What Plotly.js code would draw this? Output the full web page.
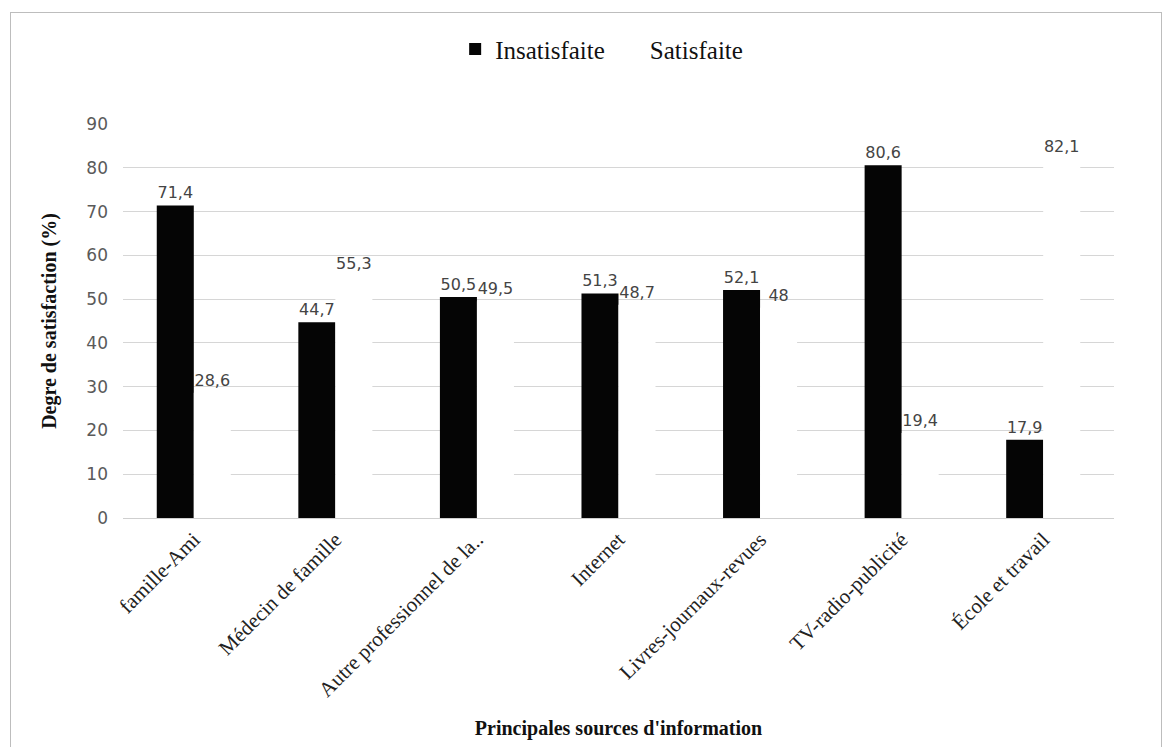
<!DOCTYPE html>
<html>
<head>
<meta charset="utf-8">
<script src="https://cdn.plot.ly/plotly-3.0.1.min.js"></script>
<style>
  html, body { margin: 0; padding: 0; background: #fff; }
  #wrap { position: relative; width: 1173px; height: 747px; overflow: hidden; }
  #chart { position: absolute; left: 0; top: 0; width: 1173px; height: 747px; }
  #frame { position: absolute; left: 10px; top: 12px; width: 1150px; height: 745px; border: 1px solid #bdbdbd; pointer-events: none; }
</style>
</head>
<body>
<div id="wrap">
  <div id="chart"></div>
  <div id="frame"></div>
</div>
<script>
const categories = ["famille-Ami", "Médecin de famille", "Autre professionnel de la..", "Internet", "Livres-journaux-revues", "TV-radio-publicité", "École et travail"];
const insatisfaite = [71.4, 44.7, 50.5, 51.3, 52.1, 80.6, 17.9];
const satisfaite = [28.6, 55.3, 49.5, 48.7, 48, 19.4, 82.1];
const yTicks = [0, 10, 20, 30, 40, 50, 60, 70, 80, 90];

const fmt = v => String(v).replace('.', ',');
const labelFont = { family: "DejaVu Sans, Verdana, sans-serif", size: 16, color: "#444" };
const serif = "Liberation Serif, Times New Roman, serif";

const traces = [
  {
    type: "bar", name: "Insatisfaite", x: categories, y: insatisfaite,
    marker: { color: "#050505" },
    text: insatisfaite.map(fmt), textposition: "outside", textfont: labelFont,
    cliponaxis: false, hoverinfo: "x+y"
  },
  {
    type: "bar", name: "Satisfaite", x: categories, y: satisfaite,
    marker: { color: "#ffffff" },
    text: satisfaite.map(fmt), textposition: "outside", textfont: labelFont,
    cliponaxis: false, hoverinfo: "x+y"
  }
];

const layout = {
  width: 1173, height: 747,
  paper_bgcolor: "rgba(0,0,0,0)", plot_bgcolor: "rgba(0,0,0,0)",
  margin: { l: 123, r: 59, t: 124, b: 229 },
  barmode: "group", bargap: 0.477, bargroupgap: 0,
  showlegend: true,
  legend: {
    orientation: "h", x: 0.483, xanchor: "center", y: 1.19, yanchor: "middle",
    font: { family: serif, size: 25, color: "#111" },
    itemwidth: 30, traceorder: "normal"
  },
  xaxis: {
    type: "category", tickangle: -45, automargin: false,
    tickfont: { family: serif, size: 21, color: "#222" },
    showgrid: false, showline: true, linecolor: "#cfcfcf", linewidth: 1,
    ticks: "", ticklen: 0,
    title: { text: "<b>Principales sources d'information</b>", font: { family: serif, size: 20, color: "#111" }, standoff: 20 }
  },
  yaxis: {
    range: [0, 90], tickvals: yTicks, automargin: false,
    tickfont: { family: "DejaVu Sans, Verdana, sans-serif", size: 17, color: "#5a5a5a" },
    showgrid: true, gridcolor: "#d6d6d6", gridwidth: 1,
    zeroline: false, showline: false, ticks: "", ticklabelstandoff: 14,
    title: { text: "<b>Degre de satisfaction (%)</b>", font: { family: serif, size: 20, color: "#111" }, standoff: 24 }
  },
  font: { family: serif }
};

Plotly.newPlot("chart", traces, layout, { displayModeBar: false, staticPlot: true });
</script>
</body>
</html>
